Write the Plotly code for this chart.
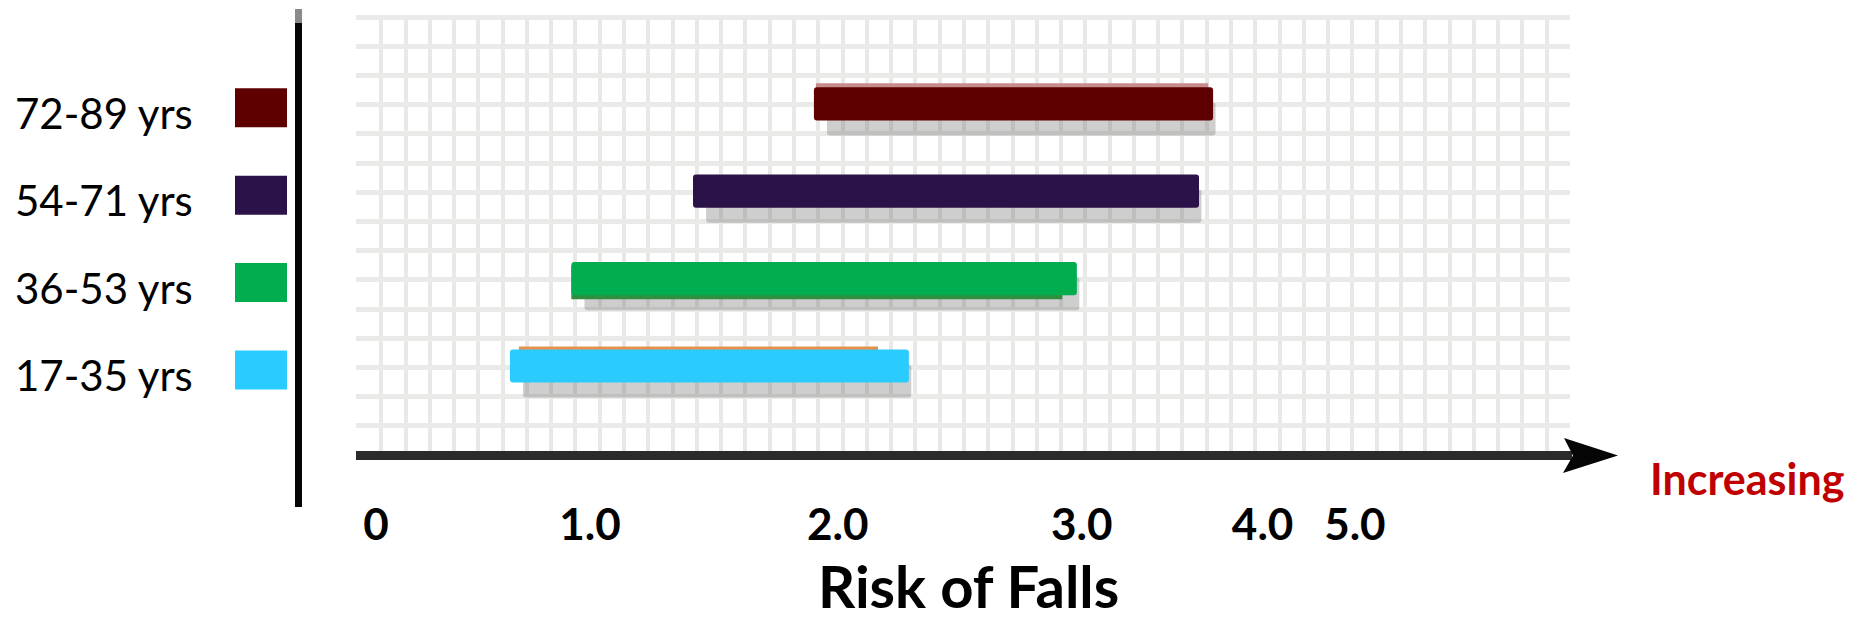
import plotly.graph_objects as go

# Age groups, bottom row first
groups = ["17-35 yrs", "36-53 yrs", "54-71 yrs", "72-89 yrs"]
# Extent of each risk band, in grid columns along the horizontal axis
band_start = [6.3, 8.83, 13.84, 18.82]
band_end = [22.73, 29.65, 34.68, 35.26]
band_colors = ["#2acbff", "#00ae50", "#2b1249", "#5e0000"]

# Labelled marks on the risk axis (grid-column positions and their text)
risk_tick_pos = [0.78, 9.6, 19.8, 29.85, 37.3, 41.1]
risk_tick_text = ["0", "1.0", "2.0", "3.0", "4.0", "5.0"]

# ---- page geometry (pixels) ----
W, H = 1856, 623
L, R, T, B = 356, 1570, 16, 455
N_COLS, N_ROWS = 50, 15
ROW_PITCH = 87.4          # pixel distance between age-group rows
ROW0_PX = 366             # pixel centre of the bottom row
BAR_W = 0.38              # bar thickness in row units


def fx(px):
    return (px - L) / (R - L)


def fy(py):
    return (B - py) / (B - T)


def px_to_rows(dpx):
    return dpx / ROW_PITCH


cat_range = [(ROW0_PX - B) / ROW_PITCH, (ROW0_PX - T) / ROW_PITCH]

fig = go.Figure()

# empty trace so the squared-paper axes get drawn
fig.add_trace(go.Scatter(x=[None], y=[None], mode="markers", xaxis="x", yaxis="y",
                         hoverinfo="skip", showlegend=False))

# soft drop shadow beneath every band
sh_start = [s + 0.54 for s in band_start]
sh_len = [e + 0.1 - s for s, e in zip(sh_start, band_end)]
fig.add_trace(go.Bar(
    y=groups, base=sh_start, x=sh_len, orientation="h", yaxis="y2",
    width=BAR_W, offset=-BAR_W / 2 - px_to_rows(15),
    marker=dict(color="rgba(105,105,105,0.33)", cornerradius=3, line=dict(width=0)),
    hoverinfo="skip", showlegend=False,
))

# thin coloured rims peeking out above / below some bands
rim_color = ["#e8914c", "#2f8f3f", None, "#c98a8a"]
rim_shift_px = [3, -4, 0, 4]
rim_trim_left = [0.37, 0.0, 0.0, 0.08]
rim_trim_right = [1.27, 0.6, 0.0, 0.2]
for g, s, e, c, sh, tl, tr in zip(groups, band_start, band_end, rim_color,
                                  rim_shift_px, rim_trim_left, rim_trim_right):
    if c is None:
        continue
    fig.add_trace(go.Bar(
        y=[g], base=[s + tl], x=[e - tr - (s + tl)], orientation="h", yaxis="y2",
        width=BAR_W, offset=-BAR_W / 2 + px_to_rows(sh),
        marker=dict(color=c, line=dict(width=0)),
        hoverinfo="skip", showlegend=False,
    ))

# the risk bands themselves
fig.add_trace(go.Bar(
    y=groups, base=band_start, x=[e - s for s, e in zip(band_start, band_end)],
    orientation="h", yaxis="y2", width=BAR_W,
    marker=dict(color=band_colors, cornerradius=3, line=dict(width=0)),
    showlegend=False,
))

shapes = []
# colour keys next to the age labels
for i, c in enumerate(band_colors):
    half = px_to_rows(19.5)
    mid = i - px_to_rows(4)
    shapes.append(dict(type="rect", xref="paper", yref="y2",
                       x0=fx(235), x1=fx(287), y0=mid - half, y1=mid + half,
                       fillcolor=c, line=dict(width=0), layer="above"))

# vertical divider between the key and the plot
shapes.append(dict(type="line", xref="paper", yref="paper",
                   x0=fx(298.5), x1=fx(298.5), y0=fy(9), y1=fy(23),
                   line=dict(color="#8a8a8a", width=7)))
shapes.append(dict(type="line", xref="paper", yref="paper",
                   x0=fx(298.5), x1=fx(298.5), y0=fy(23), y1=fy(507),
                   line=dict(color="#050505", width=7)))

# horizontal axis with arrow head
shapes.append(dict(type="line", xref="paper", yref="paper",
                   x0=fx(356), x1=fx(1572), y0=fy(455.5), y1=fy(455.5),
                   line=dict(color="#2b2b2b", width=9)))
head = [(1564, 438), (1618, 455.5), (1563, 473), (1573, 455.5)]
path = "M " + " L ".join(f"{fx(x):.5f},{fy(y):.5f}" for x, y in head) + " Z"
shapes.append(dict(type="path", xref="paper", yref="paper", path=path,
                   fillcolor="#050505", line=dict(width=0)))

annotations = []
for g in groups:
    annotations.append(dict(
        x=fx(195), y=g, xref="paper", yref="y2", xanchor="right", yanchor="middle",
        yshift=-9, text=g, showarrow=False,
        font=dict(family="Lato", size=42, color="#000000"),
    ))

annotations.append(dict(
    x=fx(968), y=fy(622), xref="paper", yref="paper", xanchor="center", yanchor="bottom",
    text="Risk of Falls", showarrow=False,
    font=dict(family="Lato", size=58, color="#000000", weight="bold"),
))
annotations.append(dict(
    x=fx(1648), y=fy(478), xref="paper", yref="paper", xanchor="left", yanchor="middle",
    text="Increasing", showarrow=False,
    font=dict(family="Lato", size=43, color="#c00000", weight="bold"),
))

fig.update_layout(
    width=W, height=H,
    margin=dict(l=L, r=W - R, t=T, b=H - B, pad=0, autoexpand=False),
    paper_bgcolor="white", plot_bgcolor="white",
    barmode="overlay",
    shapes=shapes, annotations=annotations,
    xaxis=dict(
        range=[-0.04, N_COLS - 0.04], showline=False, zeroline=False,
        showgrid=False, ticks="",
        tickmode="array", tickvals=risk_tick_pos, ticktext=risk_tick_text,
        tickfont=dict(family="Lato", size=44, color="#000000", weight="bold"),
        ticklabelstandoff=40,
        minor=dict(tick0=0, dtick=1, showgrid=True, gridcolor="#e8e8e6", gridwidth=3.5),
    ),
    yaxis=dict(
        range=[0, N_ROWS + 0.04], showline=False, zeroline=False, showticklabels=False,
        ticks="", tick0=0, dtick=1, showgrid=True, gridcolor="#eaeae8", gridwidth=4.5,
    ),
    yaxis2=dict(
        overlaying="y", type="category", categoryorder="array", categoryarray=groups,
        range=cat_range, visible=False,
    ),
)

fig.write_html("out.html")
